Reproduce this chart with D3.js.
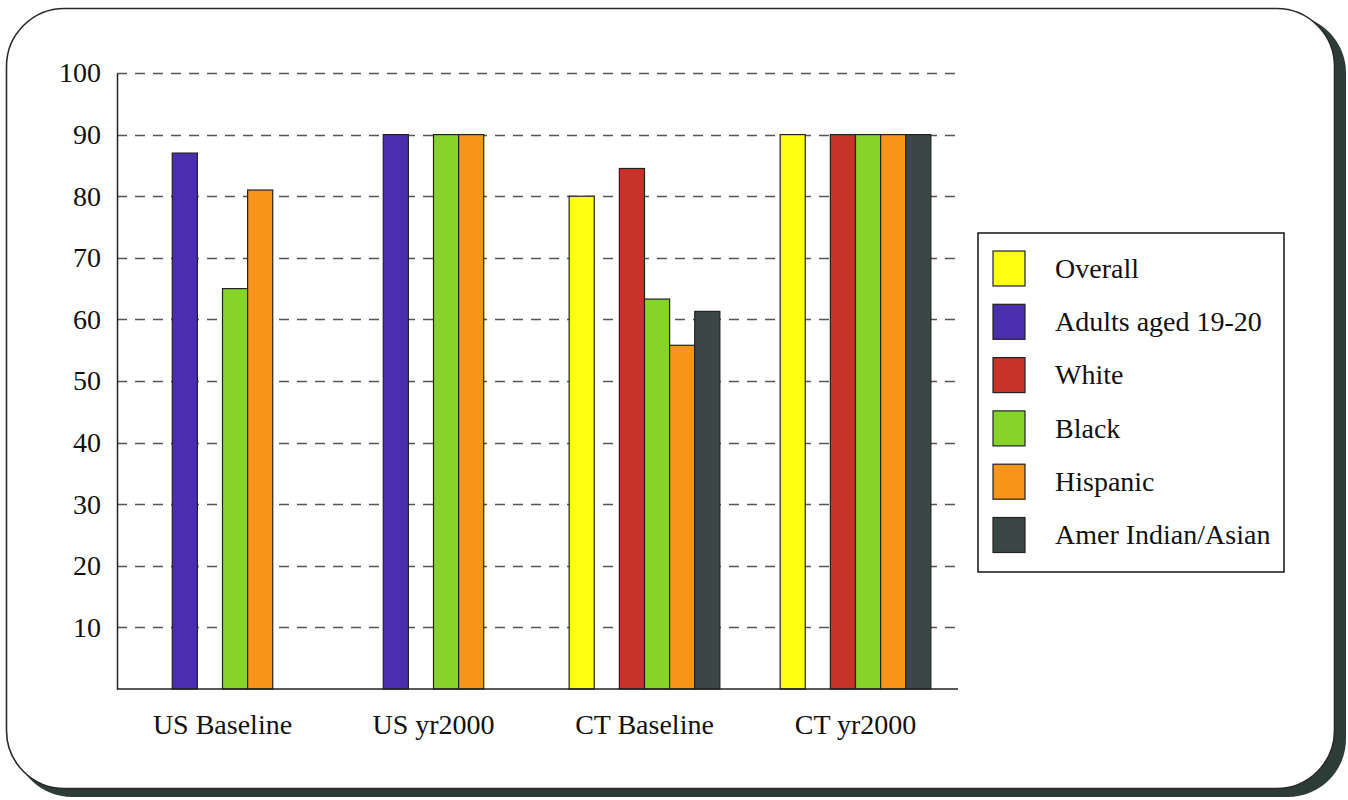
<!DOCTYPE html>
<html>
<head>
<meta charset="utf-8">
<script src="https://cdn.jsdelivr.net/npm/d3@7"></script>
<style>
  html, body { margin: 0; padding: 0; background: #ffffff; }
  svg { display: block; }
  text { font-family: "Liberation Serif", "Times New Roman", serif; fill: #111111; }
</style>
</head>
<body>
<svg id="chart" width="1348" height="800"></svg>
<script>
// Groups along the x axis
const categories = ["US Baseline", "US yr2000", "CT Baseline", "CT yr2000"];

// Series, in legend order
const seriesNames = ["Overall", "Adults aged 19-20", "White", "Black", "Hispanic", "Amer Indian/Asian"];
const seriesColors = ["#ffff12", "#4a2eb0", "#c83228", "#86d42a", "#f6951a", "#3b4744"];

// Values per series, one per category (null = no bar)
const overall   = [null, null, 80, 90];
const adults    = [87, 90, null, null];
const white     = [null, null, 84.5, 90];
const black     = [65, 90, 63.3, 90];
const hispanic  = [81, 90, 55.8, 90];
const amerIndAs = [null, null, 61.3, 90];
const seriesValues = [overall, adults, white, black, hispanic, amerIndAs];

const yTicks = [10, 20, 30, 40, 50, 60, 70, 80, 90, 100];

const FONT = '"Liberation Serif", "Times New Roman", serif';
const FS = "28px";

const svg = d3.select("#chart");

// Rounded panel with dark drop shadow on right/bottom
svg.append("rect")
  .attr("x", 14).attr("y", 15).attr("width", 1332).attr("height", 782)
  .attr("rx", 58).attr("ry", 58)
  .attr("fill", "#2e3c38");
svg.append("rect")
  .attr("x", 6.5).attr("y", 8.5).attr("width", 1328).attr("height", 780)
  .attr("rx", 58).attr("ry", 58)
  .attr("fill", "#ffffff").attr("stroke", "#2a2a2a").attr("stroke-width", 1.6);

const plot = { left: 117, right: 961, top: 73, bottom: 689 };

const y = d3.scaleLinear().domain([0, 100]).range([plot.bottom, plot.top]);
const x0 = d3.scaleBand().domain(categories).range([plot.left, plot.right]).paddingInner(0).paddingOuter(0);
const x1 = d3.scaleBand().domain(seriesNames).range([0, x0.bandwidth()]).paddingInner(0).paddingOuter(1.2);

const g = svg.append("g");

// Dashed gridlines
g.append("g")
  .selectAll("line")
  .data(yTicks)
  .join("line")
  .attr("x1", plot.left).attr("x2", 955)
  .attr("y1", d => Math.round(y(d)) + 0.5).attr("y2", d => Math.round(y(d)) + 0.5)
  .attr("stroke", "#555555").attr("stroke-width", 1.6)
  .attr("stroke-dasharray", "10,8");

// Bars
const barData = [];
seriesNames.forEach((s, si) => {
  categories.forEach((c, ci) => {
    const v = seriesValues[si][ci];
    if (v != null) barData.push({ series: s, cat: c, value: v, color: seriesColors[si] });
  });
});

g.append("g")
  .selectAll("rect")
  .data(barData)
  .join("rect")
  .attr("x", d => x0(d.cat) + x1(d.series))
  .attr("y", d => y(d.value))
  .attr("width", x1.bandwidth())
  .attr("height", d => y(0) - y(d.value))
  .attr("fill", d => d.color)
  .attr("stroke", "#222222").attr("stroke-width", 1.2);

// Y axis
const yAxis = d3.axisLeft(y).tickValues(yTicks).tickSize(0).tickPadding(16);
const yg = g.append("g").attr("transform", `translate(${plot.left},0)`).call(yAxis);
yg.select(".domain").attr("stroke", "#222").attr("stroke-width", 1.5);
yg.selectAll("text").style("font-size", FS).style("font-family", FONT).attr("fill", "#111");

// X axis
const xAxis = d3.axisBottom(x0).tickSize(0).tickPadding(25);
const xg = g.append("g").attr("transform", `translate(0,${plot.bottom})`).call(xAxis);
xg.select(".domain").attr("d", `M${plot.left},0H958`).attr("stroke", "#222").attr("stroke-width", 1.5);
xg.selectAll("text").style("font-size", FS).style("font-family", FONT).attr("fill", "#111");

// Legend
const legend = svg.append("g").attr("transform", "translate(978,233)");
legend.append("rect")
  .attr("x", 0).attr("y", 0).attr("width", 306).attr("height", 339)
  .attr("fill", "#ffffff").attr("stroke", "#222").attr("stroke-width", 1.6);

const item = legend.selectAll("g.item")
  .data(seriesNames)
  .join("g")
  .attr("class", "item")
  .attr("transform", (d, i) => `translate(0,${35 + i * 53.3})`);

item.append("rect")
  .attr("x", 15).attr("y", -17).attr("width", 32).attr("height", 35)
  .attr("fill", (d, i) => seriesColors[i])
  .attr("stroke", "#222").attr("stroke-width", 1.2);

item.append("text")
  .attr("x", 77).attr("y", 0).attr("dy", "0.35em")
  .style("font-size", FS).style("font-family", FONT)
  .text(d => d);
</script>
</body>
</html>
